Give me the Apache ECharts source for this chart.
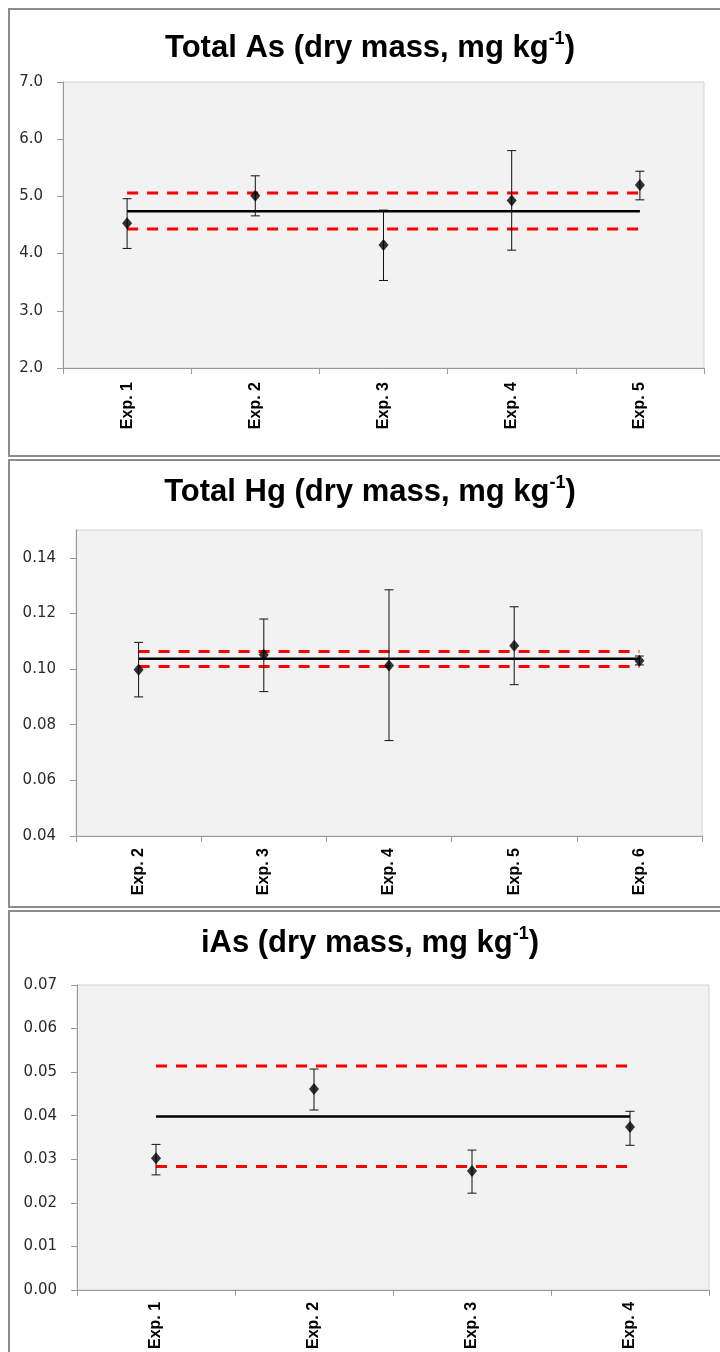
<!DOCTYPE html>
<html>
<head>
<meta charset="utf-8">
<script src="https://cdn.jsdelivr.net/npm/echarts@6/dist/echarts.min.js"></script>
<style>
  html, body { margin: 0; padding: 0; background: #fff; }
  .page { position: relative; width: 720px; height: 1352px; overflow: hidden; }
  .frame { position: absolute; left: 8px; width: 800px; box-sizing: border-box; border: 2px solid #8c8c8c; }
  #chart { position: absolute; left: 0; top: 0; width: 720px; height: 1352px; }
</style>
</head>
<body>
<div class="page">
  <div class="frame" style="top: 8px; height: 449px;"></div>
  <div class="frame" style="top: 459px; height: 449px;"></div>
  <div class="frame" style="top: 910px; height: 500px;"></div>
  <div id="chart"></div>
</div>
<script>
// Total As
const asCats = ['Exp. 1', 'Exp. 2', 'Exp. 3', 'Exp. 4', 'Exp. 5']
const asVals = [4.53, 5.01, 4.15, 4.93, 5.20]
const asLow = [4.09, 4.66, 3.53, 4.06, 4.94]
const asHigh = [4.96, 5.36, 4.76, 5.80, 5.44]
const asMean = 4.74
const asUpper = 5.06
const asLower = 4.43
const asTicks = [2, 3, 4, 5, 6, 7]

// Total Hg
const hgCats = ['Exp. 2', 'Exp. 3', 'Exp. 4', 'Exp. 5', 'Exp. 6']
const hgVals = [0.0998, 0.1052, 0.1013, 0.1084, 0.1030]
const hgLow = [0.0900, 0.0919, 0.0743, 0.0944, 0.1015]
const hgHigh = [0.1096, 0.1180, 0.1285, 0.1224, 0.1047]
const hgMean = 0.1037
const hgUpper = 0.1063
const hgLower = 0.1009
const hgTicks = [0.04, 0.06, 0.08, 0.10, 0.12, 0.14]

// iAs
const iasCats = ['Exp. 1', 'Exp. 2', 'Exp. 3', 'Exp. 4']
const iasVals = [0.0302, 0.0461, 0.0273, 0.0374]
const iasLow = [0.0264, 0.0413, 0.0222, 0.0332]
const iasHigh = [0.0334, 0.0507, 0.0321, 0.0410]
const iasMean = 0.0398
const iasUpper = 0.0514
const iasLower = 0.0283
const iasTicks = [0, 0.01, 0.02, 0.03, 0.04, 0.05, 0.06, 0.07]

const panels = [
  { name: 'Total As', cats: asCats, vals: asVals, low: asLow, high: asHigh, mean: asMean, upper: asUpper, lower: asLower, ticks: asTicks, min: 2, max: 7, digits: 1, labelMargin: 14, grid: { left: 63, top: 82, height: 286, right: 16 }, titleTop: 30 },
  { name: 'Total Hg', cats: hgCats, vals: hgVals, low: hgLow, high: hgHigh, mean: hgMean, upper: hgUpper, lower: hgLower, ticks: hgTicks, min: 0.04, max: 0.15, digits: 2, labelMargin: 12, grid: { left: 76, top: 530, height: 306, right: 18 }, titleTop: 474 },
  { name: 'iAs', cats: iasCats, vals: iasVals, low: iasLow, high: iasHigh, mean: iasMean, upper: iasUpper, lower: iasLower, ticks: iasTicks, min: 0, max: 0.07, digits: 2, labelMargin: 12, grid: { left: 77, top: 985, height: 313, right: 11 }, titleTop: 925 }
]

// 误差线
function renderErrorBar (params, api) {
  const x = api.value(0)
  const top = api.coord([x, api.value(2)])
  const bot = api.coord([x, api.value(1)])
  const w = 4.5
  const style = { stroke: '#111', lineWidth: 1 }
  return {
    type: 'group',
    children: [
      { type: 'line', shape: { x1: top[0], y1: top[1], x2: bot[0], y2: bot[1] }, style: style },
      { type: 'line', shape: { x1: top[0] - w, y1: top[1], x2: top[0] + w, y2: top[1] }, style: style },
      { type: 'line', shape: { x1: bot[0] - w, y1: bot[1], x2: bot[0] + w, y2: bot[1] }, style: style }
    ]
  }
}

const option = {
  animation: false,
  title: [],
  grid: [],
  xAxis: [],
  yAxis: [],
  series: []
}

panels.forEach((p, i) => {
  option.title.push({
    text: '{t|' + p.name + ' (dry mass, mg kg}{s|-1}{t|)}',
    left: 370,
    top: p.titleTop,
    textAlign: 'center',
    padding: 0,
    textStyle: {
      rich: {
        t: { fontFamily: 'Liberation Sans', fontWeight: 'bold', fontSize: 31, lineHeight: 36, color: '#000' },
        s: { fontFamily: 'Liberation Sans', fontWeight: 'bold', fontSize: 18, lineHeight: 36, verticalAlign: 'top', color: '#000' }
      }
    }
  })
  option.grid.push(Object.assign({
    show: true,
    backgroundColor: '#f2f2f2',
    borderColor: '#d4d4d4',
    borderWidth: 1
  }, p.grid))
  option.xAxis.push({
    type: 'category',
    gridIndex: i,
    data: p.cats,
    axisLine: { lineStyle: { color: '#9a9a9a', width: 1 } },
    axisTick: { show: true, length: 6, lineStyle: { color: '#9a9a9a' } },
    axisLabel: {
      rotate: 90,
      margin: p.labelMargin,
      fontFamily: 'Liberation Sans',
      fontWeight: 'bold',
      fontSize: 16,
      color: '#000'
    },
    splitLine: { show: false }
  })
  option.yAxis.push({
    type: 'value',
    gridIndex: i,
    min: p.min,
    max: p.max,
    axisLine: { show: true, lineStyle: { color: '#9a9a9a', width: 1 } },
    axisTick: { show: true, length: 6, customValues: p.ticks, lineStyle: { color: '#9a9a9a' } },
    axisLabel: {
      customValues: p.ticks,
      margin: 20,
      fontFamily: 'DejaVu Sans',
      fontSize: 15,
      color: '#2b2b2b',
      formatter: (v) => v.toFixed(p.digits)
    },
    splitLine: { show: false }
  })
  const flat = (v) => p.cats.map(() => v)
  option.series.push(
    {
      type: 'line', xAxisIndex: i, yAxisIndex: i, data: flat(p.upper),
      showSymbol: false, z: 2,
      lineStyle: { color: '#ff0000', width: 3, type: [11, 9] }
    },
    {
      type: 'line', xAxisIndex: i, yAxisIndex: i, data: flat(p.lower),
      showSymbol: false, z: 2,
      lineStyle: { color: '#ff0000', width: 3, type: [11, 9] }
    },
    {
      type: 'line', xAxisIndex: i, yAxisIndex: i, data: flat(p.mean),
      showSymbol: false, z: 3,
      lineStyle: { color: '#000', width: 2.5 }
    },
    {
      type: 'custom', xAxisIndex: i, yAxisIndex: i, z: 4,
      renderItem: renderErrorBar,
      encode: { x: 0, y: [1, 2] },
      data: p.cats.map((c, k) => [k, p.low[k], p.high[k]])
    },
    {
      type: 'scatter', xAxisIndex: i, yAxisIndex: i, z: 5,
      symbol: 'diamond', symbolSize: [10, 12],
      itemStyle: { color: '#000' },
      data: p.vals
    }
  )
})

const myChart = echarts.init(document.getElementById('chart'))
myChart.setOption(option)
</script>
</body>
</html>
